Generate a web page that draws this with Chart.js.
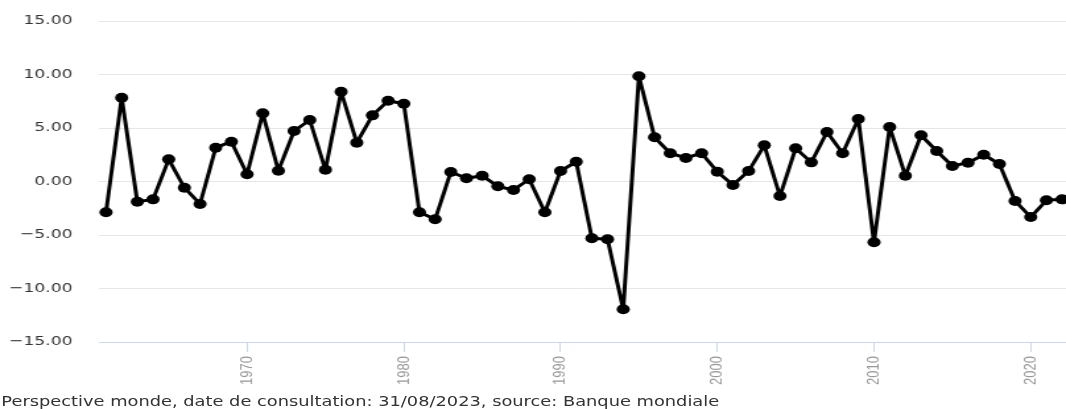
<!DOCTYPE html>
<html>
<head>
<meta charset="utf-8">
<script src="https://cdn.jsdelivr.net/npm/chart.js@4.4.1/dist/chart.umd.min.js"></script>
<style>
    body { margin: 0; background: #fff; overflow: hidden; }
    /* the reference picture is stretched horizontally, so draw narrow and widen */
    #wrap {
        position: relative;
        width: 808px;
        height: 409px;
        transform: scaleX(1.3193);
        transform-origin: 0 0;
    }
    #footer {
        position: absolute;
        left: 1px;
        top: 393px;
        font-family: "DejaVu Sans", Verdana, sans-serif;
        font-size: 13.5px;
        color: #333;
        white-space: nowrap;
    }
</style>
</head>
<body>
<div id="wrap">
    <canvas id="chart" width="808" height="409"></canvas>
    <div id="footer">Perspective monde, date de consultation: 31/08/2023, source: Banque mondiale</div>
</div>
<script>
// --- DATA ---
const years = [
    1961, 1962, 1963, 1964, 1965, 1966, 1967, 1968, 1969, 1970,
    1971, 1972, 1973, 1974, 1975, 1976, 1977, 1978, 1979, 1980,
    1981, 1982, 1983, 1984, 1985, 1986, 1987, 1988, 1989, 1990,
    1991, 1992, 1993, 1994, 1995, 1996, 1997, 1998, 1999, 2000,
    2001, 2002, 2003, 2004, 2005, 2006, 2007, 2008, 2009, 2010,
    2011, 2012, 2013, 2014, 2015, 2016, 2017, 2018, 2019, 2020,
    2021, 2022
];
const values = [
    -2.88, 7.83, -1.89, -1.67, 2.07, -0.58, -2.10, 3.16, 3.72, 0.67,
    6.37, 1.01, 4.72, 5.75, 1.10, 8.39, 3.63, 6.18, 7.55, 7.27,
    -2.88, -3.53, 0.89, 0.30, 0.54, -0.45, -0.79, 0.21, -2.88, 0.98,
    1.85, -5.31, -5.40, -11.94, 9.83, 4.13, 2.64, 2.20, 2.64, 0.92,
    -0.33, 0.98, 3.38, -1.36, 3.10, 1.79, 4.63, 2.64, 5.84, -5.68,
    5.09, 0.54, 4.32, 2.85, 1.45, 1.76, 2.50, 1.64, -1.82, -3.32,
    -1.76, -1.67
];
const xTickYears = [1970, 1980, 1990, 2000, 2010, 2020];
const yTicks = [-15, -10, -5, 0, 5, 10, 15];

const points = years.map((y, i) => ({ x: y, y: values[i] }));

// --- CHART ---
const ctx = document.getElementById("chart").getContext("2d");
new Chart(ctx, {
    type: 'line',
    data: {
        datasets: [{
            data: points,
            borderColor: '#000',
            borderWidth: 3,
            borderJoinStyle: 'round',
            borderCapStyle: 'round',
            pointRadius: 5,
            pointBackgroundColor: '#000',
            pointBorderColor: '#000',
            pointBorderWidth: 0,
            tension: 0,
            clip: false
        }]
    },
    options: {
        responsive: false,
        animation: false,
        layout: {
            autoPadding: false,
            padding: { top: 21, bottom: 0, left: 0, right: 0 }
        },
        plugins: {
            legend: { display: false },
            tooltip: { enabled: false }
        },
        scales: {
            x: {
                type: 'linear',
                min: 1960.55,
                max: 2022.25,
                afterBuildTicks: scale => {
                    scale.ticks = xTickYears.map(v => ({ value: v }));
                },
                grid: {
                    drawOnChartArea: false,
                    drawTicks: true,
                    tickLength: 10,
                    color: '#ccd6eb'
                },
                border: { display: true, color: '#ccd6eb', width: 1 },
                ticks: {
                    minRotation: 90,
                    maxRotation: 90,
                    padding: 4,
                    color: '#999',
                    font: { family: "'Liberation Sans Narrow', 'Liberation Sans', sans-serif", size: 13 },
                    callback: v => String(v)
                },
                afterFit: scale => {
                    scale.height = 67;
                    scale.paddingLeft = 0;
                    scale.paddingRight = 0;
                }
            },
            y: {
                min: -15,
                max: 15,
                afterBuildTicks: scale => {
                    scale.ticks = yTicks.map(v => ({ value: v }));
                },
                grid: { color: '#e6e6e6', drawTicks: false },
                border: { display: false },
                ticks: {
                    padding: 20,
                    color: '#333',
                    font: { family: "'DejaVu Sans', Verdana, sans-serif", size: 13 },
                    callback: v => (v < 0 ? '\u2212' + Math.abs(v).toFixed(2) : v.toFixed(2))
                },
                afterFit: scale => {
                    scale.width = 75;
                    scale.paddingTop = 0;
                    scale.paddingBottom = 0;
                }
            }
        }
    }
});
</script>
</body>
</html>
